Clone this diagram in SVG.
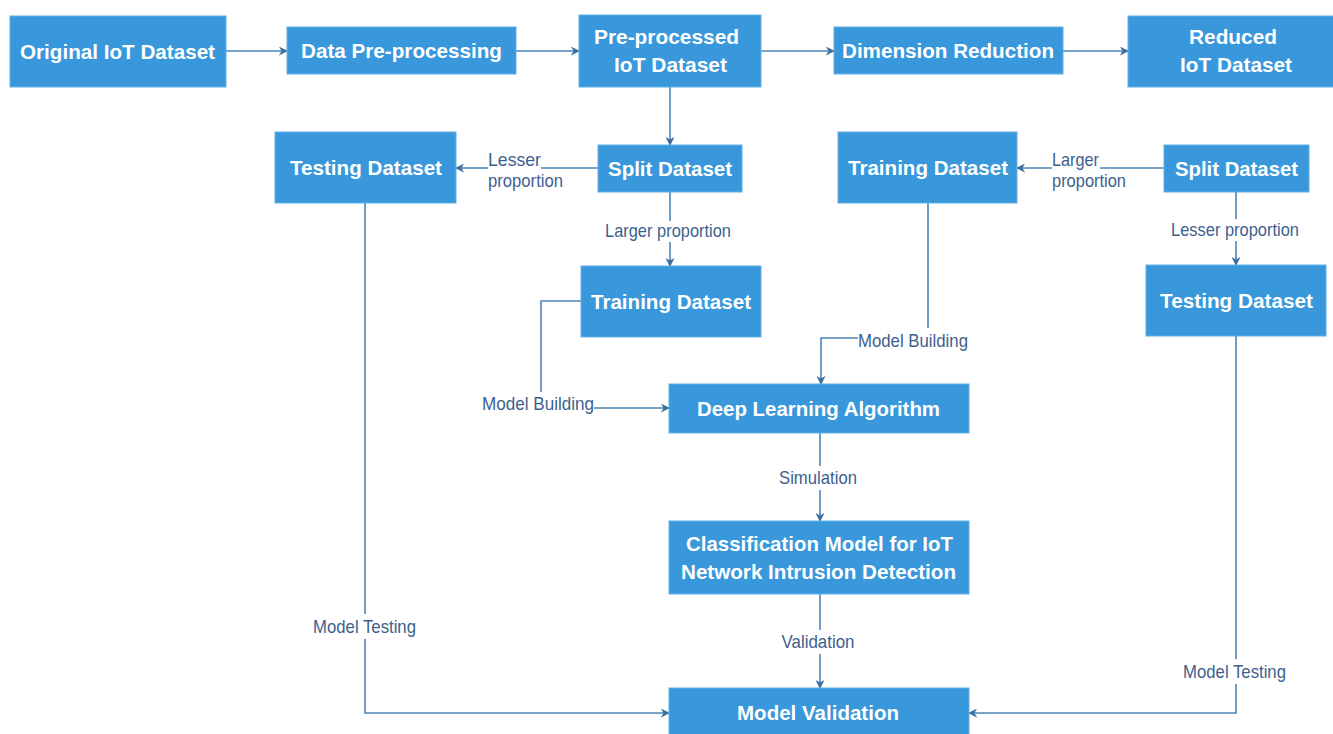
<svg xmlns="http://www.w3.org/2000/svg" width="1333" height="734" viewBox="0 0 1333 734">
<style>
.box{fill:#3898db;stroke:#62b0e6;stroke-width:1}
.nt{font-family:"Liberation Sans",Arial,sans-serif;font-weight:bold;font-size:21px;fill:#ffffff;text-anchor:middle}
.lb{font-family:"Liberation Sans",Arial,sans-serif;font-size:19px;fill:#3e5f8e}
.mid{text-anchor:middle}
.cn{fill:none;stroke:#4d86b5;stroke-width:1.6}
</style>
<defs>
<marker id="ah" viewBox="0 0 10 10" refX="9" refY="5" markerWidth="9" markerHeight="9" markerUnits="userSpaceOnUse" orient="auto">
<path d="M0,0 L10,5 L0,10 L3,5 Z" fill="#3c6f9c"/>
</marker>
</defs>
<rect width="1333" height="734" fill="#ffffff"/>
<g id="connectors">
<path class="cn" d="M226,51 H287" marker-end="url(#ah)"/>
<path class="cn" d="M516,51 H579" marker-end="url(#ah)"/>
<path class="cn" d="M761,51 H834" marker-end="url(#ah)"/>
<path class="cn" d="M1063,51 H1128" marker-end="url(#ah)"/>
<path class="cn" d="M670,87 V145" marker-end="url(#ah)"/>
<path class="cn" d="M598,168 H541"/>
<path class="cn" d="M488,168 H456" marker-end="url(#ah)"/>
<path class="cn" d="M670,192 V221"/>
<path class="cn" d="M670,242 V266" marker-end="url(#ah)"/>
<path class="cn" d="M581,301 H541 V392"/>
<path class="cn" d="M594,408 H669" marker-end="url(#ah)"/>
<path class="cn" d="M928,203 V328"/>
<path class="cn" d="M858,338 H821 V384" marker-end="url(#ah)"/>
<path class="cn" d="M1164,168 H1100"/>
<path class="cn" d="M1052,168 H1017" marker-end="url(#ah)"/>
<path class="cn" d="M1236,192 V219"/>
<path class="cn" d="M1236,241 V265" marker-end="url(#ah)"/>
<path class="cn" d="M820,433 V466"/>
<path class="cn" d="M820,490 V521" marker-end="url(#ah)"/>
<path class="cn" d="M820,594 V630"/>
<path class="cn" d="M820,654 V688" marker-end="url(#ah)"/>
<path class="cn" d="M365,203 V614"/>
<path class="cn" d="M365,639 V713 H669" marker-end="url(#ah)"/>
<path class="cn" d="M1236,336 V659"/>
<path class="cn" d="M1236,684 V713 H969" marker-end="url(#ah)"/>
<text class="lb" x="488" y="166" textLength="53" lengthAdjust="spacingAndGlyphs">Lesser</text>
<text class="lb" x="488" y="187" textLength="75" lengthAdjust="spacingAndGlyphs">proportion</text>
<text class="lb mid" x="668" y="237" textLength="126" lengthAdjust="spacingAndGlyphs">Larger proportion</text>
<text class="lb" x="482" y="410" textLength="112" lengthAdjust="spacingAndGlyphs">Model Building</text>
<text class="lb" x="858" y="347" textLength="110" lengthAdjust="spacingAndGlyphs">Model Building</text>
<text class="lb" x="1052" y="166" textLength="47" lengthAdjust="spacingAndGlyphs">Larger</text>
<text class="lb" x="1052" y="187" textLength="74" lengthAdjust="spacingAndGlyphs">proportion</text>
<text class="lb mid" x="1235" y="236" textLength="128" lengthAdjust="spacingAndGlyphs">Lesser proportion</text>
<text class="lb mid" x="818" y="484" textLength="78" lengthAdjust="spacingAndGlyphs">Simulation</text>
<text class="lb mid" x="818" y="648" textLength="73" lengthAdjust="spacingAndGlyphs">Validation</text>
<text class="lb mid" x="364.5" y="633" textLength="103" lengthAdjust="spacingAndGlyphs">Model Testing</text>
<text class="lb mid" x="1234.5" y="678" textLength="103" lengthAdjust="spacingAndGlyphs">Model Testing</text>
</g>
<g id="n1"><rect class="box" x="10" y="16" width="216" height="71"/><text class="nt" x="117.5" y="59" textLength="195" lengthAdjust="spacingAndGlyphs">Original IoT Dataset</text></g>
<g id="n2"><rect class="box" x="287" y="27" width="229" height="47"/><text class="nt" x="401.5" y="58" textLength="201" lengthAdjust="spacingAndGlyphs">Data Pre-processing</text></g>
<g id="n3"><rect class="box" x="579" y="15" width="182" height="72"/><text class="nt" x="666.5" y="44" textLength="145" lengthAdjust="spacingAndGlyphs">Pre-processed</text><text class="nt" x="670.5" y="72" textLength="113" lengthAdjust="spacingAndGlyphs">IoT Dataset</text></g>
<g id="n4"><rect class="box" x="834" y="27" width="229" height="47"/><text class="nt" x="948" y="58" textLength="212" lengthAdjust="spacingAndGlyphs">Dimension Reduction</text></g>
<g id="n5"><rect class="box" x="1128" y="16" width="216" height="71"/><text class="nt" x="1233" y="44" textLength="88" lengthAdjust="spacingAndGlyphs">Reduced</text><text class="nt" x="1236" y="72" textLength="112" lengthAdjust="spacingAndGlyphs">IoT Dataset</text></g>
<g id="n6"><rect class="box" x="598" y="145" width="144" height="47"/><text class="nt" x="670" y="176" textLength="124" lengthAdjust="spacingAndGlyphs">Split Dataset</text></g>
<g id="n7"><rect class="box" x="275" y="132" width="181" height="71"/><text class="nt" x="366" y="175" textLength="152" lengthAdjust="spacingAndGlyphs">Testing Dataset</text></g>
<g id="n8"><rect class="box" x="838" y="132" width="179" height="71"/><text class="nt" x="928" y="175" textLength="160" lengthAdjust="spacingAndGlyphs">Training Dataset</text></g>
<g id="n9"><rect class="box" x="1164" y="145" width="145" height="47"/><text class="nt" x="1236.5" y="176" textLength="123" lengthAdjust="spacingAndGlyphs">Split Dataset</text></g>
<g id="n10"><rect class="box" x="581" y="266" width="180" height="71"/><text class="nt" x="671" y="309" textLength="160" lengthAdjust="spacingAndGlyphs">Training Dataset</text></g>
<g id="n11"><rect class="box" x="1146" y="265" width="180" height="71"/><text class="nt" x="1236.5" y="308" textLength="153" lengthAdjust="spacingAndGlyphs">Testing Dataset</text></g>
<g id="n12"><rect class="box" x="669" y="384" width="300" height="49"/><text class="nt" x="818.5" y="416" textLength="243" lengthAdjust="spacingAndGlyphs">Deep Learning Algorithm</text></g>
<g id="n13"><rect class="box" x="669" y="521" width="300" height="73"/><text class="nt" x="819.5" y="551" textLength="267" lengthAdjust="spacingAndGlyphs">Classification Model for IoT</text><text class="nt" x="818.5" y="579" textLength="275" lengthAdjust="spacingAndGlyphs">Network Intrusion Detection</text></g>
<g id="n14"><rect class="box" x="669" y="688" width="300" height="60"/><text class="nt" x="818" y="720" textLength="162" lengthAdjust="spacingAndGlyphs">Model Validation</text></g>
</svg>
